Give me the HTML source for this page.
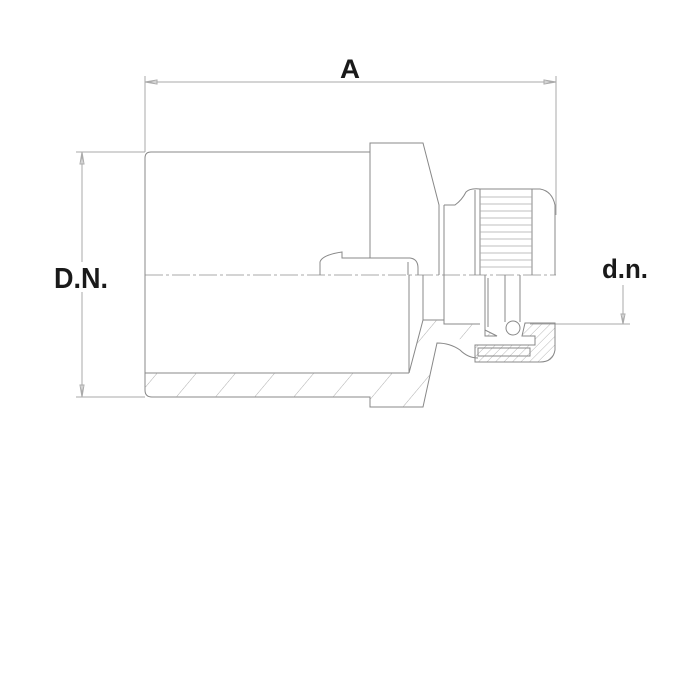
<!DOCTYPE html>
<html><head><style>
html,body{margin:0;padding:0;background:#fff;}
svg{display:block;}
.t{font-family:"Liberation Sans",sans-serif;font-weight:bold;fill:#1a1a1a;}
</style></head><body>
<svg width="700" height="700" viewBox="0 0 700 700" xmlns="http://www.w3.org/2000/svg">
<defs>
<pattern id="h" patternUnits="userSpaceOnUse" width="30" height="30" patternTransform="rotate(40)">
<line x1="0" y1="0" x2="0" y2="30" stroke="#999" stroke-width="0.8"/>
</pattern>
<pattern id="h2" patternUnits="userSpaceOnUse" width="6" height="6" patternTransform="rotate(45)">
<line x1="0" y1="0" x2="0" y2="6" stroke="#999" stroke-width="0.7"/>
</pattern>
</defs>
<g fill="none" stroke="#aaa" stroke-width="1">
<line x1="145" y1="76" x2="145" y2="152"/>
<line x1="556" y1="76" x2="556" y2="215"/>
<line x1="145" y1="82" x2="556" y2="82"/>
<path d="M145 82 L157 80 L157 84 Z M556 82 L544 80 L544 84 Z"/>
<line x1="76" y1="152" x2="145" y2="152"/>
<line x1="76" y1="397" x2="145" y2="397"/>
<line x1="82" y1="152" x2="82" y2="262"/>
<line x1="82" y1="292" x2="82" y2="397"/>
<path d="M82 152 L80 164 L84 164 Z M82 397 L80 385 L84 385 Z"/>
<line x1="530" y1="324" x2="630" y2="324"/>
<line x1="623" y1="285" x2="623" y2="324"/>
<path d="M623 324 L621 314 L625 314 Z"/>
<line x1="145" y1="275" x2="556" y2="275" stroke-dasharray="18 3 3 3"/>
</g>
<g fill="none" stroke="#888" stroke-width="1">
<path d="M145 275 L145 158 Q145 152 151 152 L370 152"/>
<path d="M370 258 L370 143 L423 143 L439 205 L439 275"/>
<line x1="444" y1="205" x2="444" y2="275"/>
<path d="M444 205 L455 205 Q462 200 466 192 Q470 188 480 189 L480 275"/>
<line x1="475" y1="190" x2="475" y2="275"/>
<path d="M532 189 L540 189 Q552 191 555 205 L555 275"/>
<line x1="480" y1="189" x2="532" y2="189"/>
<line x1="532" y1="189" x2="532" y2="275"/>
<path d="M320 275 L320 262 Q322 255 342 252 L342 258 L410 258 Q418 259 418 268 L418 275"/>
<line x1="408" y1="262" x2="408" y2="275"/>
<path d="M145 275 L145 390 Q145 397 152 397 L370 397 L370 407 L423 407 L437 343 Q450 343 460 350 Q468 358 478 358"/>
<line x1="145" y1="373" x2="409" y2="373"/>
<line x1="409" y1="275" x2="409" y2="373"/>
<path d="M409 373 L423 320 L444 320 L444 324 L480 324"/>
<line x1="423" y1="275" x2="423" y2="320"/>
<line x1="444" y1="275" x2="444" y2="320"/>
<line x1="485" y1="275" x2="485" y2="330"/>
<line x1="488" y1="278" x2="488" y2="327"/>
<line x1="505" y1="275" x2="505" y2="322"/>
<line x1="520" y1="275" x2="520" y2="322"/>
<circle cx="513" cy="328" r="7"/>
</g>
<g stroke="#aaa" stroke-width="0.8">
<line x1="480" y1="197" x2="532" y2="197"/><line x1="480" y1="204" x2="532" y2="204"/>
<line x1="480" y1="211" x2="532" y2="211"/><line x1="480" y1="218" x2="532" y2="218"/>
<line x1="480" y1="225" x2="532" y2="225"/><line x1="480" y1="232" x2="532" y2="232"/>
<line x1="480" y1="239" x2="532" y2="239"/><line x1="480" y1="246" x2="532" y2="246"/>
<line x1="480" y1="253" x2="532" y2="253"/><line x1="480" y1="260" x2="532" y2="260"/>
<line x1="480" y1="267" x2="532" y2="267"/>
</g>
<g stroke="#888" stroke-width="1">
<path d="M145 373 L409 373 L370 397 L152 397 Q145 397 145 390 Z" fill="url(#h)" stroke="none"/>
<path d="M409 373 L423 320 L444 320 L444 324 L480 324 L478 336 L437 343 L423 407 L370 407 L370 397 Z" fill="url(#h)" stroke="none"/>
<path d="M525 323 L555 323 L555 350 Q553 362 540 362 L475 362 L475 345 L535 345 L535 336 L522 336 Z" fill="url(#h2)"/>
<path d="M478 348 L530 348 L530 356 L478 356 Z" fill="none"/>
<path d="M485 330 L497 336 L485 336 Z" fill="url(#h2)"/>
</g>
<text class="t" x="350" y="78" font-size="27" text-anchor="middle" textLength="20" lengthAdjust="spacingAndGlyphs">A</text>
<text class="t" x="54" y="288" font-size="29" textLength="54" lengthAdjust="spacingAndGlyphs">D.N.</text>
<text class="t" x="602" y="278" font-size="27" textLength="46" lengthAdjust="spacingAndGlyphs">d.n.</text>
</svg>
</body></html>
